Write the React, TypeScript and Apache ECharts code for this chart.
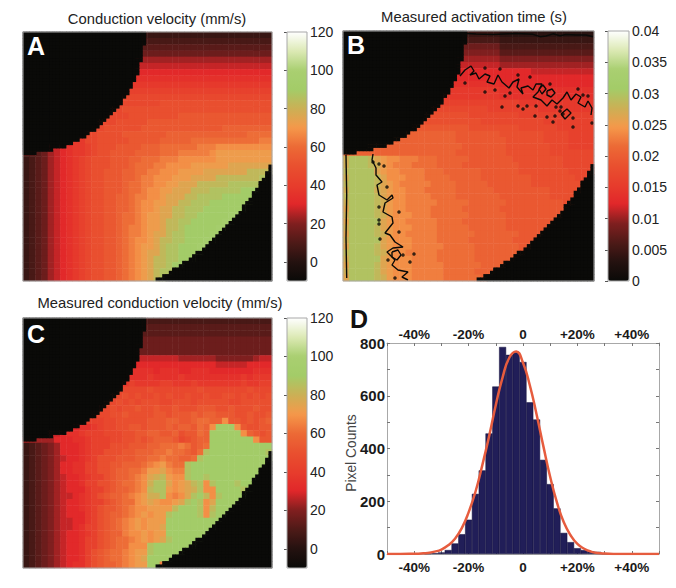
import React, { useEffect, useRef } from "react";
import * as echarts from "echarts";

// Colour levels: each character is a level 0-z (base 36) of the panel's colour range.
const velocityGrid = [
"4","5","6","7","9","a","b","c","d","e","f",
"ffffffffffffffffffffffg",
"ffffffffffffffffgggggggggggggg",
"fffffffffffffffffggggggggh",
"fffffffffffffffggggghhhhh",
"fffffffffffffgggggghhhhhhhhhhhhhi",
"ffffffffffffgggghhhhhhhiiiiiiiiiiiiijjjj",
"ddddddddddffggggghhhhhiiiiijjjjjjjjjjjk",
"aaaaaabcddefggghhhhiiijjjjjjkkkl",
"66679abcddefgghhhhiiiijjjkkkkklm",
"45679abcdefggghhhiijjjkkkllllllm",
"45679abcdefggghhhijjjkkllllmmmmmmn",
"45679abcdefgghhhiijjkklllmmmmnnnnnnnp",
"45679abcdefgghhhiijkklllmmmnnnnpppppppq",
"45679abcdefgghhhijjkkllmmnnnpppppq",
"45679abcdefgghhhijjkllmmnnnpppqqqqqr",
"45679abcdefgghhiijkkllmnnnppqqqqr",
"45679abcdefgghhiijkllmmnnppqqqrrrrrrrrrs",
"45679abcdefgghhiijkllmnnppqqqrrrrrrrs",
"45679abcdefgghhijjklmmnnppqqrrrrrs",
"45679abcdefgghhijjklmmnppqqrrrrrs",
"45679abcdefgghhijkklmmnppqrrrrrs",
"45679abcdefgghhijkklmnnpqqrrrrs",
"45679abcdefgghhijkllmnppqqrrrs",
"45679abcdefgghhijklmmnpqqrrrs",
"45679abcdefgghhijklmnnpqqrrrs",
"45679abcdefgghhijklmnppqqrrs",
"45679abcdefgghhijklmnppqrrrs",
"45679abcdefgghhijklmnpqqrrrs",
"45679abcdefgghhijklmnpqqrrs",
];

const activationGrid = [
"44444444444444444444444443","55555555555555555555555554","77777777777777777777777775",
"88888888888888888888888886","99999999999999999999999998","aaaaaaaaaaaaaaaaaaaaaaaaa9",
"bbbbbbbbbbbbbbbbbbbbbbbbbbbbbba","b","cccccccccccccccccccccccccb",
"dddddddddddddddddddddddddc","dddddddddddddddddddddddddc","eeeeeeeeeeeeeeeeeeeeeeeeeeeed",
"fffffffffffffffffffffffeeeeeeeed","ggggggggggggggggggggffffffffe","ggggggggggggggggggggggffffffffffe",
"hhhhhhhhhhhhhhhhhhhhggggggggffffffe","iiiiiiiiiiiiiiiiiihhhhhhhgggggggffffe","iiiiiiiiiiiiiiiiiihhhhhhhhggggggffffe",
"iiiiiiiiiiiiiiiiiiihhhhhhhgggggggfffe","iiiiiiiiiiiiiiiiiihhhhhhhhgggggggfffff",
"oqqqpnmllkkkjjjiiiiihhhhhhhggggggggfffff",
"oqqqpomlkkkjjjjiiiihhhhhhhhhgggggggfffff",
"pqqqqnmllkkkkjjjiiiiiihhhhhhggggggggffff",
"oqqqqpnlllkkkjjjjiiiiihhhhhhhhgggggggfff",
"pqqqqpnmlkkkkkjjjjiiiiihhhhhhhgggggggggf",
"oqqqqonmllkkkjjjjjiiiiiihhhhhhhhhggggggg",
"pqqqqpnmllkkkkjjjjiiiiiiihhhhhhhhggggggg",
"oqqqqpomllkkkkkjjjjjiiiiiihhhhhhhhhggggg",
"nqqqqpnmllkkkkjjjjjiiiiiihhhhhhhhhhhhggg",
"oqqqqpomlllkkkjjjjjjiiiiiihhhhhhhhhhhhhh",
"nqqqqqnmllkkkkkjjjjiiiiiiihhhhhhhhhhhhhh",
"oqqqqpnmlllkkkkjjjjjiiiiiihhhhhhhhhhhhhh",
"nqqqqpomllkkkkkjjjjjjiiiiiiihhhhhhhhhhhh",
"oqqqqqnmlllkkkkjjjjjiiiiiiihhhhhhhhhhhhh",
"nqqqqpnmlllkkkkkjjjjjiiiiiiihhhhhhhhhhhh",
"pqqqqpomllkkkkkjjjjjjiiiiiiihhhhhhhhhhhh",
"oqqqqqnmlllkkkkjjjjjjiiiiiiihhhhhhhhhhhh",
"nqqqqpnmlllkkkkkjjjjjjiiiiiihhhhhhhhhhhh",
"oqqqqpnmlllkkkkkjjjjjiiiiiiihhhhhhhhhhhh",
"nqqqqpomlllkkkkkjjjjjjiiiiiihhhhhhhhhhhh",
];

const measuredGrid = [
"5","6","6","7","7","7",
"aaaaaaaaaaaaaaaaaaaaaaaaa9999998888889aa",
"bbbbbbbbbbbbbbbbbbbbbbbbbbbbbbbaaaaabbbb",
"cccccccccccccccccccccbcccbbcccbbbbbbbccc",
"ccccccccccccccccdcccdccccdcccccccccdcddd",
"ddddddddddddddeddeddddeedddedddddddeddee",
"ffffffffffffffffffffgfffffffgfffffffgfff",
"fffffffffffffgffgfgffgfgffgffgffggfgfgfg",
"fffffffffffffgfgfgfgggffgggfgggggffgggggf",
"fffffffffffeffgfgghgghgghggghhhgghggghgg",
"dddddddddddeffgghgggghhghhhihiihhhgghggh",
"cccccccccceeeffggggghhhiihhijjiilhhghghi",
"bbbbbbbbbccdeffgghhghhhihiihjilrrrlhgghh",
"aaaaaabccdeeefffgghhiihhighhjirrrrrlihgh",
"99999bbbccdeeeffgghghiiihfghiirrrrrrrlhh",
"456789bbbcdeeeggghhhiijjjkjhijrrrrrrrrrr",
"456789bbbcdeeggghhiiijjkjjihjqrrrrrrrrrq",
"456789abbcdeggghhhiijjkjjiijqrrrrrrrrrrr",
"456789bbcceegghhiiijklmkjjqrrrrrrrrrrrrr",
"456789bbcceegghiijjkmmnlkkqrrrrrrrrrrrrr",
"456789abbcdeeghiijklnopmllqrrqrrrrrrrrrr",
"456789abbceegghijjkloqqnlmnpqlqrrrqrrrrr",
"456789abbbdeeghiijklpqqmlmnoqllrrrrqrrrr",
"456789aabcdeghiijklmooqlklnqrplqrrrrrrrr",
"456789abbcdeeghijjlmnmllmnqrqlnrrrrrrrrr",
"456789abbcdeghhijkllmmmmprrrqlprrrrrrrrr",
"456789abbbdeghiijklmlmmqrrrrqlqrrrrrrrrr",
"456789aabbdeghijklmlmmmrrrrrrrrrrrrrrrrr",
"456789aabceeghijklmlmmnrrrrrrrrrrrrrrrrr",
"456789abbcdeghiikllmlmmrrrrrrrrrrrrrrrrr",
"456789abbceeghijjklmlmnqrrrrrrrrrrrrrrrr",
"456789abbceeghijjlllqrrrrrrrrrrrrrrrrrrr",
"456789abbceghijjklmmqrrrrrrrlk",
"456789abbceghijjklmnrrrrkl",
"456789abcceghiijklmmrrkl",
];

// Black areas on the 75x75 fine grid, read row by row.
const innerBlackEnd = [37,37,37,37,36,36,36,36,36,35,35,35,35,34,34,33,33,32,32,31,30,30,29,28,27,26,25,24,23,22,20,19,17,15,13,9,4];
const outerBlackFirstRow = 39;
const outerBlackStart = [75,74,74,73,73,72,71,71,70,69,69,68,67,66,66,65,64,63,62,61,60,59,58,57,56,55,54,52,51,50,48,47,45,44,42,40];

// Contours in panel B
const contourTop = [[124,2.5],[133,3],[150,3.5],[173,2.5],[190,3.3],[197,5.7],[203,5],[210,2.8],[217,4.7],[223,3.5],[233,4],[243,4],[250,5.7]];
const contourUpper = [[117,45],[122,39],[128,35],[131,40],[127,44],[133,42],[136,48],[142,43],[147,45],[144,51],[151,53],[155,44],[159,51],[166,57],[170,51],[176,48],[174,56],[180,63],[178,57],[185,55],[190,59],[193,53],[199,53],[195,61],[190,66],[198,69],[204,75],[209,69],[214,73],[220,67],[224,61],[228,69],[233,63],[238,66],[235,72],[242,76],[245,70],[249,77],[248,84]];
const contourEdge = [[3,124],[3.7,164],[3,207],[3.7,247]];
const contourLower = [[30,123],[29,129],[33,137],[33,144],[39,151],[34,154],[36,164],[44,169],[49,164],[50,167],[42,172],[40,181],[49,186],[50,192],[42,202],[47,204],[52,211],[60,216],[50,217],[44,221],[52,229],[49,234],[55,239],[65,241],[59,246],[65,249]];
const contourLoopA = [[204,60],[209,58],[212,62],[208,66],[204,64],[204,60]];
const contourLoopB = [[196,58],[200,54],[203,58],[199,63],[196,58]];
const contourLoopC = [[49,221],[55,219],[58,224],[54,229],[49,226],[49,221]];
const contourLoopD = [[218,83],[224,78],[228,82],[222,88],[218,83]];
const contourDots = [[157,38],[142,37],[175,44],[187,46],[207,53],[122,52],[142,61],[152,59],[162,65],[167,62],[159,76],[175,75],[184,75],[180,78],[193,75],[192,85],[204,86],[212,85],[210,91],[213,76],[218,76],[217,80],[230,87],[235,58],[240,64],[249,92],[230,96],[220,83],[245,65],[30,131],[36,133],[41,135],[44,156],[36,176],[56,181],[36,189],[36,193],[56,201],[37,208],[60,224],[67,231],[71,223],[45,229],[52,247]];

// Histogram
const binCenters = [-35,-32.5,-30,-27.5,-25,-22.5,-20,-17.5,-15,-12.5,-10,-7.5,-5,-2.5,0,2.5,5,7.5,10,12.5,15,17.5,20,22.5,25,27.5,30];
const binCounts = [2,3,6,15,40,75,130,228,317,457,635,785,755,765,728,575,510,357,265,173,80,45,22,15,10,8,2];
const fitX = [-50,-45,-40,-37.5,-35,-32.5,-30,-27.5,-25,-22.5,-20,-17.5,-15,-12.5,-10,-7.5,-5,-2.5,0,2.5,5,7.5,10,12.5,15,17.5,20,22.5,25,27.5,30,35,50];
const fitY = [0,0,1,2,4,9,17,33,58,98,158,235,335,445,565,670,745,768,725,640,529,408,292,195,120,71,38,20,9,4,2,0,0];

const velocityTicks = [0,20,40,60,80,100,120];
const activationTicks = [0,0.005,0.01,0.015,0.02,0.025,0.03,0.035,0.04];
const histPercentLabels = [-40,-20,0,20,40];
const colourStops = ["#0a0a08","#241210","#4e1a17","#801f1f","#e1272a","#e73d2c","#e9502f","#ec6a36","#f5984a","#cbb055","#a3cc68","#a9cf71","#dce9b4","#ffffff"];

const FONT = "'Liberation Sans', Arial, sans-serif";
const COARSE = 40;
const FINE = 75;
const idx = (n: number) => Array.from({ length: n }, (_, i) => i);

function isBlackFine(x: number, y: number) {
  if (y < innerBlackEnd.length && x < innerBlackEnd[y]) return true;
  const i = y - outerBlackFirstRow;
  return i >= 0 && i < outerBlackStart.length && x >= outerBlackStart[i];
}

// A coarse cell lying wholly inside a black area takes the black value too.
function isBlackCoarse(x: number, y: number) {
  const r = FINE / COARSE;
  for (let fy = Math.floor(y * r); fy < Math.min(FINE, Math.ceil((y + 1) * r)); fy++) {
    for (let fx = Math.floor(x * r); fx < Math.min(FINE, Math.ceil((x + 1) * r)); fx++) {
      if (!isBlackFine(fx, fy)) return false;
    }
  }
  return true;
}

function decode(rows: string[], min: number, max: number) {
  const out: number[][] = [];
  rows.forEach((row, y) => {
    const full = row.padEnd(COARSE, row[row.length - 1]);
    for (let x = 0; x < COARSE; x++) {
      out.push([x, y, isBlackCoarse(x, y) ? min : min + (parseInt(full[x], 36) / 35) * (max - min)]);
    }
  });
  return out;
}

function maskCells(value: number) {
  const out: number[][] = [];
  innerBlackEnd.forEach((end, y) => {
    for (let x = 0; x < end; x++) out.push([x, y, value]);
  });
  outerBlackStart.forEach((start, i) => {
    for (let x = start; x < FINE; x++) out.push([x, outerBlackFirstRow + i, value]);
  });
  return out;
}

const catX = (gridIndex: number, n: number) => ({ type: "category", gridIndex, data: idx(n), show: false });
const catY = (gridIndex: number, n: number) => ({ type: "category", gridIndex, data: idx(n), show: false, inverse: true });

const heat = (xAxisIndex: number, yAxisIndex: number, data: number[][]) => ({
  type: "heatmap", xAxisIndex, yAxisIndex, data, silent: true, progressive: 0, emphasis: { disabled: true },
  itemStyle: { borderWidth: 0 },
});

const barAxis = (gridIndex: number, min: number, max: number, ticks: number[]) => ({
  type: "value", gridIndex, position: "right", min, max,
  axisLine: { show: false }, splitLine: { show: false },
  axisTick: { show: true, inside: true, length: 3, lineStyle: { color: "#555" }, customValues: ticks },
  axisLabel: { show: true, customValues: ticks, margin: 3, color: "#222", fontFamily: FONT, fontSize: 14, formatter: (v: number) => String(v) },
});

const title = (text: string, x: number, y: number) => ({
  type: "text", x, y, z: 100, style: { text, fill: "#222", font: `14.8px ${FONT}`, textAlign: "center", textVerticalAlign: "middle" },
});
const letter = (text: string, x: number, y: number, fill: string) => ({
  type: "text", x, y, z: 100, style: { text, fill, font: `bold 25px ${FONT}`, textAlign: "left", textVerticalAlign: "middle" },
});
const frame = (x: number, y: number, width: number, height: number) => ({
  type: "rect", z: 100, shape: { x, y, width, height }, style: { fill: "transparent", stroke: "#a8a8a8", lineWidth: 1 },
});

const pctLabel = (v: number) => (histPercentLabels.includes(v) ? (v > 0 ? `+${v}%` : v === 0 ? "0" : `${v}%`) : "");
const histX = (position: string, margin: number) => ({
  type: "value", gridIndex: 3, position, min: -50, max: 50, interval: 10,
  axisLine: { show: true, onZero: false, lineStyle: { color: "#a8a8a8" } },
  axisTick: { show: true, inside: true, length: 3, lineStyle: { color: "#777" } },
  splitLine: { show: false },
  axisLabel: { show: true, margin, color: "#1a1a1a", fontFamily: FONT, fontSize: 13.5, fontWeight: "bold", formatter: pctLabel, hideOverlap: false, showMinLabel: true, showMaxLabel: true },
});
const histY = (position: string, labels: boolean) => ({
  type: "value", gridIndex: 3, position, min: 0, max: 800, interval: 100,
  axisLine: { show: true, onZero: false, lineStyle: { color: "#a8a8a8" } },
  axisTick: { show: true, inside: true, length: 3, lineStyle: { color: "#777" } },
  splitLine: { show: false },
  axisLabel: { show: labels, margin: 2, color: "#1a1a1a", fontFamily: FONT, fontSize: 15, fontWeight: "bold", formatter: (v: number) => (v % 200 === 0 ? String(v) : "") },
});
const pxX = { type: "value", gridIndex: 1, min: 0, max: 251, show: false };
const pxY = { type: "value", gridIndex: 1, min: 0, max: 250, show: false, inverse: true };
const contour = (data: number[][]) => ({
  type: "line", xAxisIndex: 4, yAxisIndex: 4, data, showSymbol: false, silent: true, z: 5,
  lineStyle: { color: "#0a0a08", width: 1.4 },
});

export default function App() {
  const ref = useRef<HTMLDivElement>(null);
  useEffect(() => {
    const chart = echarts.init(ref.current!, undefined, { renderer: "svg" });
    chart.setOption({
      animation: false,
      backgroundColor: "#ffffff",
      grid: [
        { left: 23, top: 32, width: 249, height: 249 },
        { left: 343, top: 31, width: 251, height: 250 },
        { left: 23, top: 318, width: 249, height: 250 },
        { left: 387, top: 343, width: 272, height: 211 },
        { left: 287, top: 32, width: 20, height: 249 },
        { left: 608, top: 31, width: 21, height: 250 },
        { left: 287, top: 318, width: 20, height: 250 },
      ],
      xAxis: [
        catX(0, COARSE), catX(0, FINE),
        catX(1, COARSE), catX(1, FINE), pxX,
        catX(2, COARSE), catX(2, FINE),
        histX("bottom", 6), histX("top", 2),
        { type: "value", gridIndex: 4, show: false }, { type: "value", gridIndex: 5, show: false }, { type: "value", gridIndex: 6, show: false },
      ],
      yAxis: [
        catY(0, COARSE), catY(0, FINE),
        catY(1, COARSE), catY(1, FINE), pxY,
        catY(2, COARSE), catY(2, FINE),
        histY("left", true), histY("right", false),
        barAxis(4, -10, 120, velocityTicks), barAxis(5, 0, 0.04, activationTicks), barAxis(6, -10, 120, velocityTicks),
      ],
      visualMap: [
        { type: "continuous", seriesIndex: [0, 1], min: -10, max: 120, left: 287, top: 32, itemWidth: 20, itemHeight: 249, padding: 0, hoverLink: false, calculable: false, inRange: { color: colourStops } },
        { type: "continuous", seriesIndex: [2, 3], min: 0, max: 0.04, left: 608, top: 31, itemWidth: 21, itemHeight: 250, padding: 0, hoverLink: false, calculable: false, inRange: { color: colourStops } },
        { type: "continuous", seriesIndex: [4, 5], min: -10, max: 120, left: 287, top: 318, itemWidth: 20, itemHeight: 250, padding: 0, hoverLink: false, calculable: false, inRange: { color: colourStops } },
      ],
      series: [
        heat(0, 0, decode(velocityGrid, -10, 120)),
        heat(1, 1, maskCells(-10)),
        heat(2, 2, decode(activationGrid, 0, 0.04)),
        heat(3, 3, maskCells(0)),
        heat(5, 5, decode(measuredGrid, -10, 120)),
        heat(6, 6, maskCells(-10)),
        contour(contourTop), contour(contourUpper), contour(contourEdge), contour(contourLower),
        contour(contourLoopA), contour(contourLoopB), contour(contourLoopC), contour(contourLoopD),
        { type: "scatter", xAxisIndex: 4, yAxisIndex: 4, data: contourDots, symbolSize: 3.5, silent: true, z: 5, itemStyle: { color: "#0a0a08" } },
        { type: "bar", xAxisIndex: 7, yAxisIndex: 7, data: binCenters.map((c, i) => [c, binCounts[i]]), barWidth: 7, silent: true, itemStyle: { color: "#211e58", borderColor: "#14113c", borderWidth: 0.5 } },
        { type: "line", xAxisIndex: 7, yAxisIndex: 7, data: fitX.map((x, i) => [x, fitY[i]]), smooth: true, showSymbol: false, silent: true, z: 6, lineStyle: { color: "#e65c3e", width: 2.5 } },
      ],
      graphic: {
        elements: [
          frame(23, 32, 249, 249), frame(343, 31, 251, 250), frame(23, 318, 249, 250),
          frame(287, 32, 20, 249), frame(608, 31, 21, 250), frame(287, 318, 20, 250),
          title("Conduction velocity (mm/s)", 157, 19),
          title("Measured activation time (s)", 474, 17),
          title("Measured conduction velocity (mm/s)", 160, 303),
          letter("A", 27, 46, "#ffffff"),
          letter("B", 347, 45, "#ffffff"),
          letter("C", 27, 334, "#ffffff"),
          letter("D", 350, 319, "#111111"),
          { type: "text", x: 351, y: 453, rotation: Math.PI / 2, z: 100, style: { text: "Pixel Counts", fill: "#444", font: `13.8px ${FONT}`, textAlign: "center", textVerticalAlign: "middle" } },
        ],
      },
    });
    return () => chart.dispose();
  }, []);
  return (
    <>
      <style>{"svg rect{shape-rendering:crispEdges}"}</style>
      <div ref={ref} style={{ position: "absolute", left: 0, top: 0, width: 676, height: 588 }} />
    </>
  );
}
